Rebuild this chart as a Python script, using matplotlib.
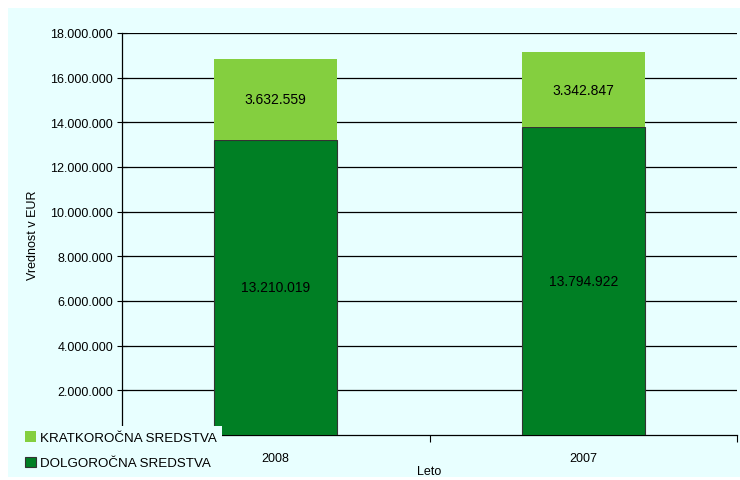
import matplotlib
matplotlib.use("Agg")
import matplotlib.pyplot as plt
from matplotlib.patches import Rectangle

years = ["2008", "2007"]
dolgorocna = [13210019, 13794922]
kratkorocna = [3632559, 3342847]
y_ticks = [2000000, 4000000, 6000000, 8000000, 10000000, 12000000, 14000000, 16000000, 18000000]

light_green = "#84CF3F"
dark_green = "#007F24"
bg = "#E8FFFF"

plt.rcParams['font.family'] = ['Liberation Sans Narrow', 'Liberation Sans', 'DejaVu Sans']


def fmt(v):
    return f"{v:,}".replace(",", ".")


fig = plt.figure(figsize=(7.4, 4.81), dpi=100)
fig.patches.append(Rectangle((8 / 740, 3 / 481), 1, 469 / 481, transform=fig.transFigure,
                             facecolor=bg, edgecolor="none", zorder=-5))

ax = fig.add_axes([122 / 740, 45 / 481, 615 / 740, 402 / 481])
ax.set_facecolor(bg)

x = range(len(years))
b1 = ax.bar(x, dolgorocna, width=0.4, color=dark_green, edgecolor="#333333", linewidth=0.8,
            label="DOLGOROČNA SREDSTVA", zorder=3)
b2 = ax.bar(x, kratkorocna, width=0.4, bottom=dolgorocna, color=light_green, edgecolor="none",
            label="KRATKOROČNA SREDSTVA", zorder=3)

for i in x:
    ax.text(i, dolgorocna[i] / 2, fmt(dolgorocna[i]), ha="center", va="center", fontsize=10, zorder=4)
    ax.text(i, dolgorocna[i] + kratkorocna[i] / 2, fmt(kratkorocna[i]), ha="center", va="center",
            fontsize=10, zorder=4)

ax.set_ylim(0, 18000000)
ax.set_xlim(-0.5, 1.5)
ax.set_yticks(y_ticks)
ax.set_yticklabels([fmt(t) for t in y_ticks], fontsize=9)
ax.tick_params(axis="y", direction="inout", length=7, width=0.8, pad=3)
ax.set_xticks(list(x))
ax.set_xticklabels(years, fontsize=9)
ax.tick_params(axis="x", which="major", length=0, pad=12)
ax.set_xticks([-0.5, 0.5, 1.5], minor=True)
ax.tick_params(axis="x", which="minor", length=5, width=0.8, direction="out")
ax.yaxis.grid(True, color="black", linewidth=0.9)
ax.set_axisbelow(True)
for s in ["top", "right"]:
    ax.spines[s].set_visible(False)
for s in ["left", "bottom"]:
    ax.spines[s].set_linewidth(0.9)

ax.set_ylabel("Vrednost v EUR", fontsize=9, labelpad=8)
ax.set_xlabel("Leto", fontsize=9, labelpad=1)

leg = fig.legend(handles=[b2, b1], loc="upper left", bbox_to_anchor=(20 / 740, 54 / 481),
                 frameon=True, facecolor=bg, edgecolor="none", framealpha=1, fontsize=9.6,
                 handlelength=0.8, handleheight=0.8, handletextpad=0.3, labelspacing=0.95,
                 borderpad=0.4, borderaxespad=0)
leg.get_frame().set_boxstyle("square", pad=0)
leg.set_zorder(10)

fig.savefig("out.png", dpi=100)
